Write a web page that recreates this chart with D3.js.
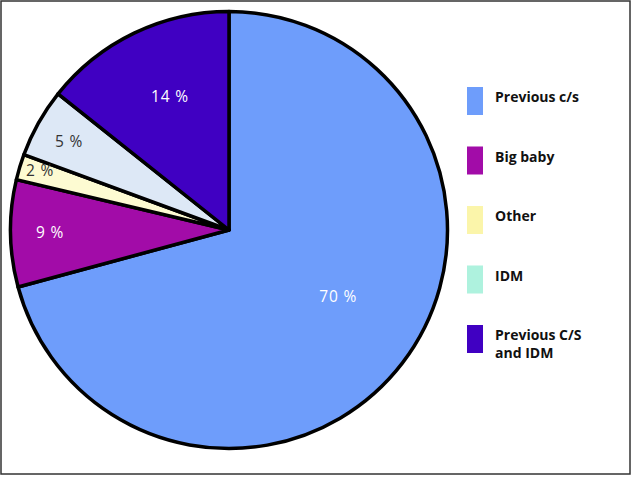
<!DOCTYPE html>
<html>
<head>
<meta charset="utf-8">
<script src="https://cdn.jsdelivr.net/npm/d3@7"></script>
<style>
html,body{margin:0;padding:0;background:#fff;}
svg{display:block;}
</style>
</head>
<body>
<svg id="chart" width="632" height="480"></svg>
<script>
const categories = ["Previous c/s", "Big baby", "Other", "IDM", "Previous C/S and IDM"];
// slice sizes as drawn in the picture (percent)
const values = [70.8, 7.9, 1.9, 5.1, 14.3];
const valueLabels = ["70 %", "9 %", "2 %", "5 %", "14 %"];
const legendLines = [["Previous c/s"], ["Big baby"], ["Other"], ["IDM"], ["Previous C/S", "and IDM"]];

const sliceColors = ["#6e9dfb", "#a20ca8", "#fdfbd2", "#dde8f6", "#4000c2"];
const legendColors = ["#6e9dfb", "#a20ca8", "#fbf5aa", "#aef2de", "#4000c2"];
const labelColors = ["#ffffff", "#ffffff", "#333333", "#333333", "#ffffff"];
const labelRadius = [128, 179, 198, 183, 146];
const labelAngleShift = [-6, 0.2, 0.7, -0.3, 1.9];

const svg = d3.select("#chart");

// outer frame
svg.append("rect").attr("x", 1).attr("y", 1).attr("width", 629).attr("height", 473)
  .attr("fill", "#fff").attr("stroke", "#333").attr("stroke-width", 1.5);

const cx = 229, cy = 230, R = 218.5;
const g = svg.append("g").attr("transform", `translate(${cx},${cy})`);

const pie = d3.pie().sort(null).value(d => d)(values);
const arc = d3.arc().innerRadius(0).outerRadius(R);

g.selectAll("path.slice").data(pie).join("path")
  .attr("class", "slice")
  .attr("d", arc)
  .attr("fill", (d, i) => sliceColors[i])
  .attr("stroke", "#000")
  .attr("stroke-width", 3.5)
  .attr("stroke-linejoin", "round");

g.selectAll("text.lbl").data(pie).join("text")
  .attr("class", "lbl")
  .attr("transform", (d, i) => {
    const a = (d.startAngle + d.endAngle) / 2 + labelAngleShift[i] * Math.PI / 180;
    const r = labelRadius[i];
    return `translate(${Math.sin(a) * r},${-Math.cos(a) * r})`;
  })
  .attr("text-anchor", "middle")
  .attr("dy", "0.36em")
  .attr("font-family", "'Open Sans', sans-serif")
  .attr("font-size", 15.5)
  .attr("letter-spacing", "0.8px")
  .attr("fill", (d, i) => labelColors[i])
  .text((d, i) => valueLabels[i]);

// legend
const ly = d3.scalePoint().domain(categories).range([87, 325]);
const leg = svg.append("g").selectAll("g").data(categories).join("g")
  .attr("transform", d => `translate(467,${ly(d)})`);
leg.append("rect").attr("width", 16).attr("height", 28)
  .attr("fill", (d, i) => legendColors[i]);
leg.append("text")
  .attr("x", 28)
  .attr("y", 15)
  .attr("font-family", "'Open Sans', sans-serif")
  .attr("font-weight", "bold")
  .attr("font-size", 14)
  .attr("fill", "#111")
  .selectAll("tspan").data((d, i) => legendLines[i]).join("tspan")
  .attr("x", 28)
  .attr("dy", (d, j) => j === 0 ? 0 : 18)
  .text(d => d);
</script>
</body>
</html>
